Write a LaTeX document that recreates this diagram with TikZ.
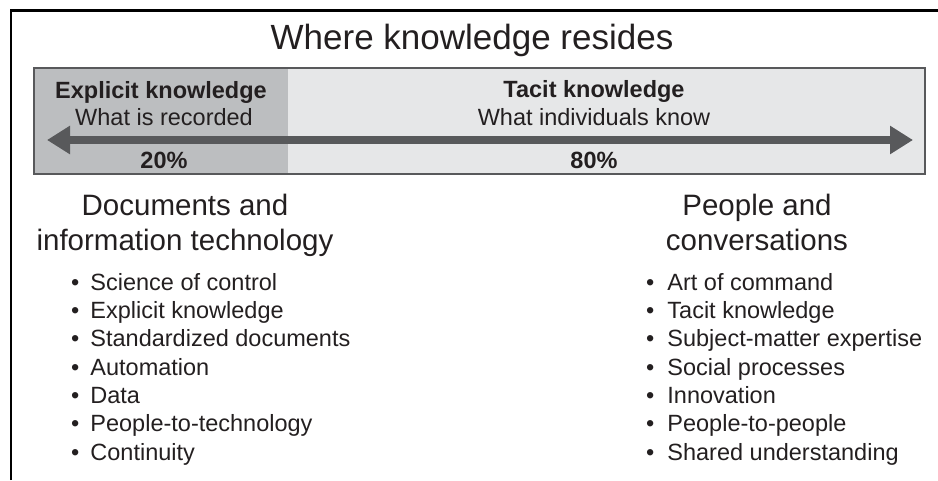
\documentclass[tikz,border=0pt]{standalone}
\usepackage{fontspec}
\setmainfont{Liberation Sans}
\usetikzlibrary{arrows.meta}

\definecolor{bardark}{HTML}{BCBEC0}
\definecolor{barlight}{HTML}{E6E7E8}
\definecolor{barline}{HTML}{58595B}
\definecolor{ink}{HTML}{231F20}

\tikzset{
  bartext/.style={inner sep=0pt, anchor=base, text=ink, font=\fontsize{23.5}{28}\selectfont},
  bartextbold/.style={bartext, font=\fontsize{23.5}{28}\selectfont\bfseries},
  heading/.style={inner sep=0pt, anchor=base, text=ink, font=\fontsize{29.5}{35}\selectfont},
  item/.style={inner sep=0pt, anchor=base west, text=ink, font=\fontsize{23.5}{28}\selectfont},
  bigarrow/.style={barline, line width=8pt,
    {Triangle[length=23pt,width=27pt]}-{Triangle[length=23pt,width=27pt]}},
}

\begin{document}
\begin{tikzpicture}[x=1pt, y=-1pt]
    \useasboundingbox (0,0) rectangle (938,480);

    % Frame (only top and left edges show)
    \draw[black, line width=2.5pt] (11,480) -- (11,10.5) -- (938,10.5);

    % Title
    \node[inner sep=0pt, anchor=base, text=ink, font=\fontsize{35}{42}\selectfont]
        (title) at (472,49) {Where knowledge resides};

    % Bar with the two shares
    \fill[barlight] (34,68) rectangle (925,174);
    \fill[bardark] (34,68) rectangle (288,174);
    \draw[barline, line width=2pt] (34,68) rectangle (925,174);

    % Double arrow across the bar
    \coordinate (arrowL) at (47,140);
    \coordinate (arrowR) at (913,140);
    \draw[bigarrow] (arrowL) -- (arrowR);

    % Bar labels
    \node[bartextbold] (expl) at (161,98) {Explicit knowledge};
    \node[bartext] (expldesc) at (164,125) {What is recorded};
    \node[bartextbold] (explpct) at (164,168) {20\%};
    \node[bartextbold] (tac) at (594,97) {Tacit knowledge};
    \node[bartext] (tacdesc) at (594,125) {What individuals know};
    \node[bartextbold] (tacpct) at (594,168) {80\%};

    % Left column
    \node[heading] (docs) at (185,215) {Documents and};
    \node[heading] (docsb) at (185,250) {information technology};
    \node[item] (l1) at (71,290) {\textbullet\hspace{11pt}Science of control};
    \node[item] (l2) at (71,318.3) {\textbullet\hspace{11pt}Explicit knowledge};
    \node[item] (l3) at (71,346.7) {\textbullet\hspace{11pt}Standardized documents};
    \node[item] (l4) at (71,375) {\textbullet\hspace{11pt}Automation};
    \node[item] (l5) at (71,403.3) {\textbullet\hspace{11pt}Data};
    \node[item] (l6) at (71,431.7) {\textbullet\hspace{11pt}People-to-technology};
    \node[item] (l7) at (71,460) {\textbullet\hspace{11pt}Continuity};

    % Right column
    \node[heading] (people) at (757,215) {People and};
    \node[heading] (peopleb) at (757,250) {conversations};
    \node[item] (r1) at (646,290) {\textbullet\hspace{13pt}Art of command};
    \node[item] (r2) at (646,318.3) {\textbullet\hspace{13pt}Tacit knowledge};
    \node[item] (r3) at (646,346.7) {\textbullet\hspace{13pt}Subject-matter expertise};
    \node[item] (r4) at (646,375) {\textbullet\hspace{13pt}Social processes};
    \node[item] (r5) at (646,403.3) {\textbullet\hspace{13pt}Innovation};
    \node[item] (r6) at (646,431.7) {\textbullet\hspace{13pt}People-to-people};
    \node[item] (r7) at (646,460) {\textbullet\hspace{13pt}Shared understanding};
\end{tikzpicture}
\end{document}
